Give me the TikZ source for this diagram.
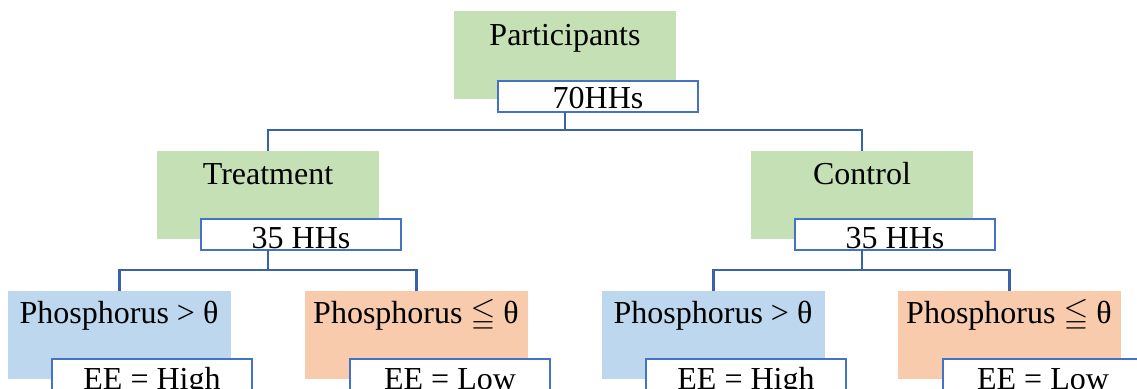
\documentclass[tikz,border=0pt]{standalone}
\usepackage{fontspec}
\usepackage{amssymb}
\setmainfont{Liberation Serif}
\definecolor{gfill}{HTML}{C5E0B4}
\definecolor{bfill}{HTML}{BDD7EE}
\definecolor{ofill}{HTML}{F8CBAD}
\definecolor{bline}{HTML}{4472C4}
\definecolor{cline}{HTML}{3A62A8}
\begin{document}
\begin{tikzpicture}[x=1pt,y=-1pt,
  colbox/.style={anchor=north west,inner sep=0pt,outer sep=0pt,draw=none},
  gbox/.style={colbox,fill=gfill,minimum width=222pt,minimum height=88pt},
  bbox/.style={colbox,fill=bfill,minimum width=223pt,minimum height=88pt},
  obox/.style={colbox,fill=ofill,minimum width=223pt,minimum height=88pt},
  wbox/.style={anchor=north west,inner sep=0pt,outer sep=0pt,fill=white,draw=bline,line width=2pt,minimum width=200pt,minimum height=31pt},
  txt/.style={anchor=base,inner sep=0pt,font=\fontsize{32}{38}\selectfont},
  conn/.style={draw=cline,line width=2.6pt}]
\useasboundingbox (0,0) rectangle (1137,388);
\clip (0,0) rectangle (1137,388);
% level 1
\node[gbox] (p) at (454,11) {};
\node[txt] (pt) at (565,45) {Participants};
\node[wbox] (pw) at (498,81) {};
\node[txt] (pwt) at (598,108) {70HHs};
% level 2
\node[gbox] (t) at (157,151) {};
\node[txt] (tt) at (268,184) {Treatment};
\node[wbox] (tw) at (201,219) {};
\node[txt] (twt) at (301,248) {35 HHs};
\node[gbox] (c) at (751,151) {};
\node[txt] (ct) at (862,184) {Control};
\node[wbox] (cw) at (795,219) {};
\node[txt] (cwt) at (895,248) {35 HHs};
% level 3
\node[bbox] (b1) at (8,291) {};
\node[txt] (b1t) at (119,323) {Phosphorus > θ};
\node[wbox] (b1w) at (52,359) {};
\node[txt] (b1wt) at (152,389) {EE = High};
\node[obox] (o1) at (305,291) {};
\node[txt] (o1t) at (416,323) {Phosphorus $\leqq$ θ};
\node[wbox] (o1w) at (350,359) {};
\node[txt] (o1wt) at (450,389) {EE = Low};
\node[bbox] (b2) at (602,291) {};
\node[txt] (b2t) at (713,323) {Phosphorus > θ};
\node[wbox] (b2w) at (646,359) {};
\node[txt] (b2wt) at (746,389) {EE = High};
\node[obox] (o2) at (898,291) {};
\node[txt] (o2t) at (1009,323) {Phosphorus $\leqq$ θ};
\node[wbox] (o2w) at (943,359) {};
\node[txt] (o2wt) at (1043,389) {EE = Low};
% connectors
\coordinate (j1) at (565,130);
\coordinate (j2) at (268,270);
\coordinate (j3) at (862,270);
\draw[conn] (p.center |- pw.south) -- (j1);
\draw[conn] (j1) -| (t.north);
\draw[conn] (j1) -| (c.north);
\draw[conn] (t.center |- tw.south) -- (j2);
\draw[conn] (j2) -| (b1.north);
\draw[conn] (j2) -| (o1.north);
\draw[conn] (c.center |- cw.south) -- (j3);
\draw[conn] (j3) -| (b2.north);
\draw[conn] (j3) -| (o2.north);
\end{tikzpicture}
\end{document}
